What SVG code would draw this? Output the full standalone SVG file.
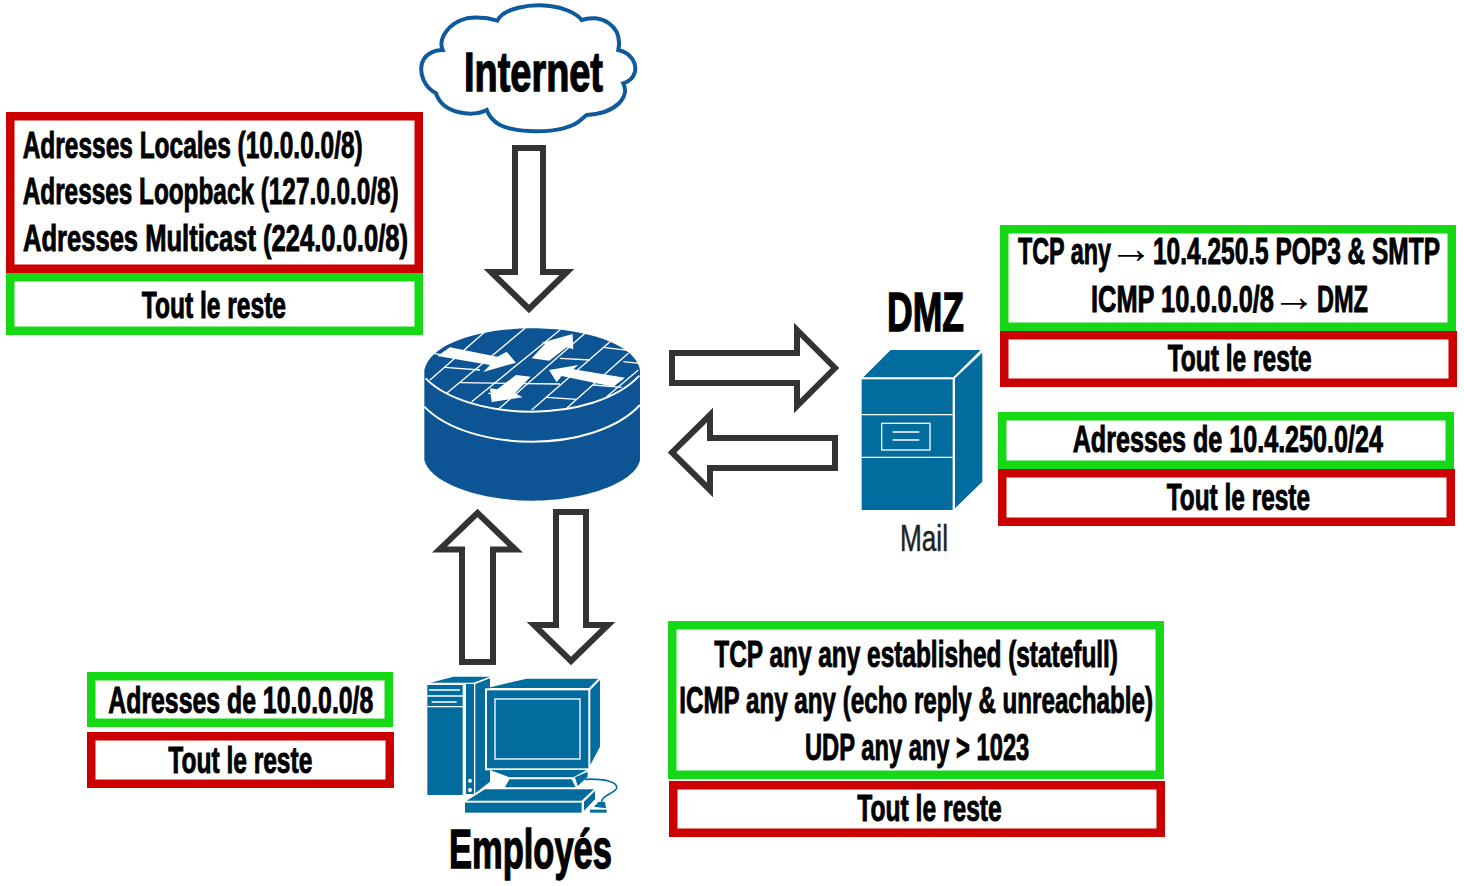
<svg xmlns="http://www.w3.org/2000/svg" width="1464" height="886" viewBox="0 0 1464 886">
<style>
.r{fill:#fff;stroke:#cc0000;stroke-width:8.5}
.g{fill:#fff;stroke:#15d915;stroke-width:8.5}
.a{fill:#fff;stroke:#333;stroke-width:6;stroke-miterlimit:10}
.t{font-family:"Liberation Sans Narrow","Liberation Sans",Arial,sans-serif;font-weight:700;font-size:36px;fill:#000;stroke:#000;stroke-width:.9}
.n{font-family:"Liberation Serif",serif;font-weight:400;stroke:none;font-size:44px}
.big{font-size:56px;stroke-width:1.4}
.w{stroke:#fff;fill:none;stroke-width:4}
.b{fill:#036c9e}
.rb{fill:#0d5494}
</style>
<rect width="1464" height="886" fill="#fff"/>
<g id="connectors">
<path class="a" d="M515 148H543V272H567L529 309L491 272H515Z"/>
<path class="a" d="M462 662H493V549.500H515.500L477.500 513L439.500 549.500H462Z"/>
<path class="a" d="M556 512H586V625H608L571 661L534 625H556Z"/>
<path class="a" d="M672 353H797V330L835 368L797 406V383H672Z"/>
<path class="a" d="M835 438H710V415L672 452.500L710 490V468H835Z"/>
</g>
<g id="internet">
<path d="M262 62C280 25 360 10 420 18C460 22 500 40 515 60C570 40 640 75 625 150C665 160 680 190 675 215C670 235 655 245 640 250C660 290 620 340 530 345C505 365 500 375 460 385C400 400 310 395 270 375C250 365 235 345 230 330C190 350 100 345 78 280C40 260 30 220 35 195C40 165 70 150 98 150C85 120 110 70 170 55C205 50 240 55 262 62Z" transform="translate(410 0) scale(.3333)" fill="#fff" stroke="#0f5a9c" stroke-width="12"/>
<text class="t big" x="464" y="90.700" textLength="139" lengthAdjust="spacingAndGlyphs">Internet</text>
</g>
<g id="router" transform="translate(410 310) scale(.3333)">
<path class="rb" d="M43 180V450C60 520 210 572 366 572C520 572 675 520 690 450V180C675 100 520 55 366 55C210 55 60 100 43 180Z"/>
<g class="w">
<path stroke-width="6" d="M47 205C110 270 240 305 366 305C490 305 620 270 688 197"/>
<path stroke-width="6" d="M43 290C110 360 240 395 366 395C490 395 620 360 690 285"/>
<path d="M60 210L225 65M110 250L345 55M185 275L450 60M265 298L525 70M365 300L600 95M470 295L655 130M590 260L685 180"/>
<path d="M70 130L130 140M105 172L210 180M150 218L450 222M235 250L320 254M410 262L500 268M450 145L540 150M580 112L660 122M640 155L688 160M550 225L635 232"/>
</g>
<g fill="#fff">
<path d="M82 138L120 112L262 140L290 125L318 158L220 186L240 165Z"/>
<path d="M365 145L405 102L395 98L488 72L490 118L470 112L418 152Z"/>
<path d="M318 195L362 200L315 250L338 262L245 276L240 235L262 238Z"/>
<path d="M417 180L505 165L490 178L645 203L610 230L455 198L440 217Z"/>
</g>
</g>
<g id="mail">
<g transform="translate(850 340) scale(.3333)">
<path class="b" d="M40 112L122 30H392L310 112Z"/>
<rect class="b" x="35" y="118" width="273" height="392"/>
<path class="b" d="M315 115L397 38V425L315 505Z"/>
<path class="w" stroke-width="6" d="M35 224H308M35 352H308M128 276H208M128 300H208"/>
<rect class="w" stroke-width="6" x="95" y="250" width="145" height="80"/>
</g>
<text x="900" y="551" textLength="48" lengthAdjust="spacingAndGlyphs" style="font-family:'Liberation Sans Narrow','Liberation Sans',sans-serif;font-size:36px;fill:#222;stroke:#222;stroke-width:.5">Mail</text>
</g>
<g id="dmz"><text class="t big" x="887" y="331" textLength="77" lengthAdjust="spacingAndGlyphs">DMZ</text></g>
<g id="employes">
<g transform="translate(410 660) scale(.3333)">
<path class="b" d="M62 68L130 50H240L190 68Z"/>
<rect class="b" x="52" y="75" width="106" height="330"/>
<rect class="b" x="168" y="72" width="24" height="330"/>
<path class="b" d="M196 72L240 55V365L196 400Z"/>
<path class="w" d="M52 108H158M52 140H158M57 90H150M65 126H140"/>
<circle cx="180" cy="362" r="6" fill="#fff"/><circle cx="180" cy="390" r="6" fill="#fff"/>
<rect class="b" x="228" y="88" width="310" height="240" stroke="#fff" stroke-width="6"/>
<path class="b" d="M232 84L350 56H565L537 84Z"/>
<path class="b" d="M541 90L570 60V260L541 315Z"/>
<rect class="w" stroke-width="6" x="255" y="117" width="255" height="180"/>
<path class="b" d="M240 330H530L490 352H298Z"/>
<path class="b" d="M298 358H485L497 382H285Z"/>
<path class="b" d="M495 352L533 335V350L503 378Z"/>
<path class="b" d="M170 422L225 388H552L515 422Z"/>
<rect class="b" x="165" y="428" width="350" height="30"/>
<path class="b" d="M522 425L555 393V418L522 452Z"/>
<path d="M525 358C580 355 625 365 620 385C615 400 575 405 575 425" fill="none" stroke="#036c9e" stroke-width="5"/>
<path class="b" d="M552 440L565 426H585L588 445Z"/>
<rect class="b" x="540" y="449" width="50" height="9"/>
</g>
<text class="t big" x="449" y="868" textLength="163" lengthAdjust="spacingAndGlyphs">Employés</text>
</g>
<g id="deny-internet">
<rect class="r" x="10.250" y="116.250" width="408.500" height="152.500"/>
<text class="t" x="22.700" y="157.700" textLength="340" lengthAdjust="spacingAndGlyphs">Adresses Locales (10.0.0.0/8)</text>
<text class="t" x="22.700" y="204" textLength="376" lengthAdjust="spacingAndGlyphs">Adresses Loopback (127.0.0.0/8)</text>
<text class="t" x="23" y="250.700" textLength="385" lengthAdjust="spacingAndGlyphs">Adresses Multicast (224.0.0.0/8)</text>
</g>
<g id="allow-internet">
<rect class="g" x="10.250" y="277.250" width="408.500" height="53.500"/>
<text class="t" x="141.700" y="318" textLength="144.300" lengthAdjust="spacingAndGlyphs">Tout le reste</text>
</g>
<g id="allow-dmz-in">
<rect class="g" x="1004.250" y="229.250" width="447.500" height="97.500"/>
<text class="t"><tspan x="1018" y="264" textLength="93" lengthAdjust="spacingAndGlyphs">TCP any</tspan> <tspan class="n" x="1109" y="263">→</tspan> <tspan x="1153" y="264" textLength="287" lengthAdjust="spacingAndGlyphs">10.4.250.5 POP3 &amp; SMTP</tspan></text>
<text class="t"><tspan x="1091" y="311.700" textLength="183" lengthAdjust="spacingAndGlyphs">ICMP 10.0.0.0/8</tspan> <tspan class="n" x="1272" y="311">→</tspan> <tspan x="1317" y="311.700" textLength="51" lengthAdjust="spacingAndGlyphs">DMZ</tspan></text>
</g>
<g id="deny-dmz-in">
<rect class="r" x="1004.250" y="335.250" width="448.500" height="47.500"/>
<text class="t" x="1167.700" y="370.700" textLength="144" lengthAdjust="spacingAndGlyphs">Tout le reste</text>
</g>
<g id="allow-dmz-out">
<rect class="g" x="1002.250" y="416.250" width="447.500" height="48.500"/>
<text class="t" x="1072.700" y="451.700" textLength="310.300" lengthAdjust="spacingAndGlyphs">Adresses de 10.4.250.0/24</text>
</g>
<g id="deny-dmz-out">
<rect class="r" x="1002.250" y="473.250" width="448.500" height="48.500"/>
<text class="t" x="1166.700" y="510" textLength="143.300" lengthAdjust="spacingAndGlyphs">Tout le reste</text>
</g>
<g id="allow-employes-in">
<rect class="g" x="672.250" y="625.250" width="487.500" height="149.500"/>
<text class="t" x="714.300" y="666.700" textLength="403.700" lengthAdjust="spacingAndGlyphs">TCP any any established (statefull)</text>
<text class="t" x="679.300" y="713.300" textLength="473.700" lengthAdjust="spacingAndGlyphs">ICMP any any (echo reply &amp; unreachable)</text>
<text class="t" x="805" y="760" textLength="224.300" lengthAdjust="spacingAndGlyphs">UDP any any &gt; 1023</text>
</g>
<g id="deny-employes-in">
<rect class="r" x="673.250" y="785.250" width="487.500" height="47.500"/>
<text class="t" x="857.300" y="821" textLength="144.400" lengthAdjust="spacingAndGlyphs">Tout le reste</text>
</g>
<g id="allow-employes-out">
<rect class="g" x="91.250" y="676.250" width="297.500" height="46.500"/>
<text class="t" x="108.300" y="712.700" textLength="265" lengthAdjust="spacingAndGlyphs">Adresses de 10.0.0.0/8</text>
</g>
<g id="deny-employes-out">
<rect class="r" x="91.250" y="736.250" width="298.500" height="47.500"/>
<text class="t" x="168.300" y="772.700" textLength="144" lengthAdjust="spacingAndGlyphs">Tout le reste</text>
</g>
</svg>
